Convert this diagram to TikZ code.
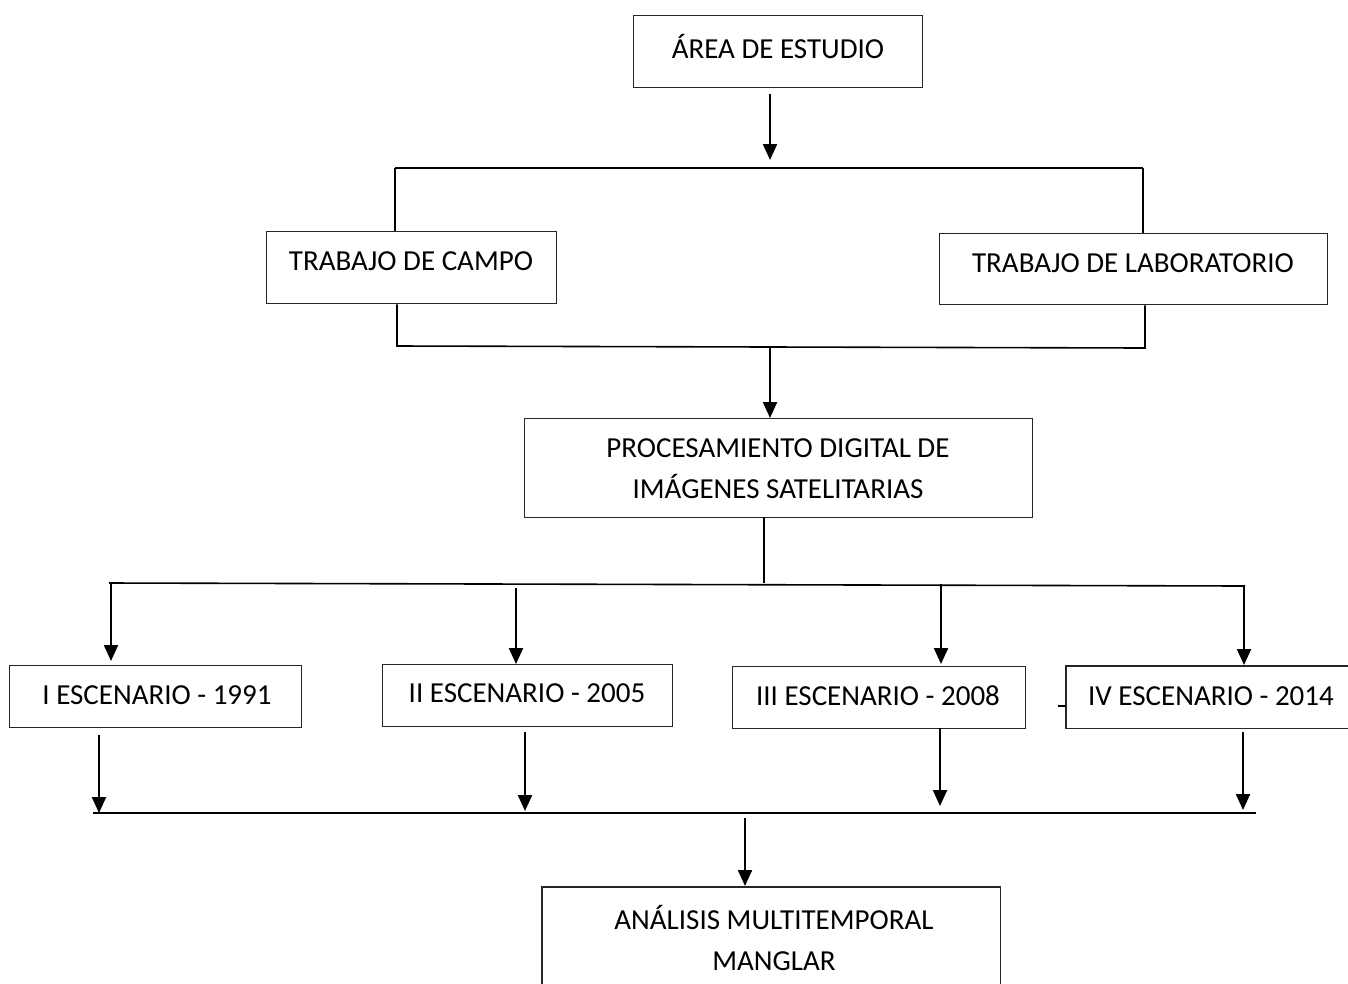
\documentclass[tikz,border=0pt]{standalone}
\usepackage{fontspec}
\setmainfont{Carlito}
\usetikzlibrary{arrows.meta}
\begin{document}
\begin{tikzpicture}[x=1pt,y=-1pt,
  boxst/.style={draw=black!85,line width=1.3pt,inner sep=0pt,anchor=north west},
  txt/.style={inner sep=0pt,align=center,font=\fontsize{29}{41}\selectfont},
  ln/.style={line width=1.6pt},
  arr/.style={line width=2.2pt,-{Triangle[width=14pt,length=16pt]}}]
\clip (0,0) rectangle (1348,983);
\useasboundingbox (0,0) rectangle (1348,983);
% boxes
\node[boxst,minimum width=289pt,minimum height=72pt] (area) at (633,15) {};
\node[txt] (tarea) at (778,46) {ÁREA DE ESTUDIO};
\node[boxst,minimum width=290pt,minimum height=72pt] (campo) at (266,231) {};
\node[txt] (tcampo) at (411,261) {TRABAJO DE CAMPO};
\node[boxst,minimum width=388pt,minimum height=71pt] (lab) at (939,233) {};
\node[txt] (tlab) at (1133,263) {TRABAJO DE LABORATORIO};
\node[boxst,minimum width=508pt,minimum height=99pt] (proc) at (524,418) {};
\node[txt] (tproc) at (778,469) {PROCESAMIENTO DIGITAL DE\\IMÁGENES SATELITARIAS};
\node[boxst,minimum width=292pt,minimum height=62pt] (e1) at (9,665) {};
\node[txt] (te1) at (157,695) {I ESCENARIO - 1991};
\node[boxst,minimum width=290pt,minimum height=62pt] (e2) at (382,664) {};
\node[txt] (te2) at (527,693) {II ESCENARIO - 2005};
\node[boxst,minimum width=293pt,minimum height=62pt] (e3) at (732,666) {};
\node[txt] (te3) at (878,696) {III ESCENARIO - 2008};
\node[inner sep=0pt,anchor=north west,minimum width=290pt,minimum height=62pt] (e4) at (1066,666) {};
\draw[line width=1.3pt,draw=black!85] (e4.north east) -- (e4.north west) -- (e4.south west) -- (e4.south east);
\node[txt] (te4) at (1211,696) {IV ESCENARIO - 2014};
\draw[line width=1.2pt] (1058,706) -- (e4.west |- 0,706);
\node[inner sep=0pt,anchor=north west,minimum width=458pt,minimum height=110pt] (fin) at (542,887) {};
\draw[line width=1.3pt,draw=black!85] (fin.south west) -- (fin.north west) -- (fin.north east) -- (fin.south east);
\node[txt] (tfin) at (774,938) {ANÁLISIS MULTITEMPORAL\\MANGLAR};
% junction coordinates
\coordinate (j1l) at (395,168);
\coordinate (j1r) at (1143,168);
\coordinate (j2l) at (397,346);
\coordinate (j2r) at (1145,348);
\coordinate (j3l) at (109,583);
\coordinate (j3r) at (1245,586);
\coordinate (j4l) at (93,813);
\coordinate (j4r) at (1256,813);
% connectors
\draw[arr] (770,94) -- (770,160);
\draw[ln] (j1l) -- (j1r);
\draw[ln] (j1l) -- (j1l |- campo.north);
\draw[ln] (j1r) -- (j1r |- lab.north);
\draw[ln] (j2l |- campo.south) -- (j2l) -- (j2r) -- (j2r |- lab.south);
\draw[arr] (770,346) -- (770,418);
\draw[ln] (764,517) -- (764,583);
\draw[ln] (j3l) -- (j3r);
\draw[arr] (111,584) -- (111,661);
\draw[arr] (516,588) -- (516,664);
\draw[arr] (941,584) -- (941,664);
\draw[arr] (1244,587) -- (1244,665);
\draw[arr] (99,735) -- (99,813);
\draw[arr] (525,732) -- (525,811);
\draw[arr] (940,728) -- (940,806);
\draw[arr] (1243,732) -- (1243,810);
\draw[ln] (j4l) -- (j4r);
\draw[arr] (745,818) -- (745,886);
\end{tikzpicture}
\end{document}
